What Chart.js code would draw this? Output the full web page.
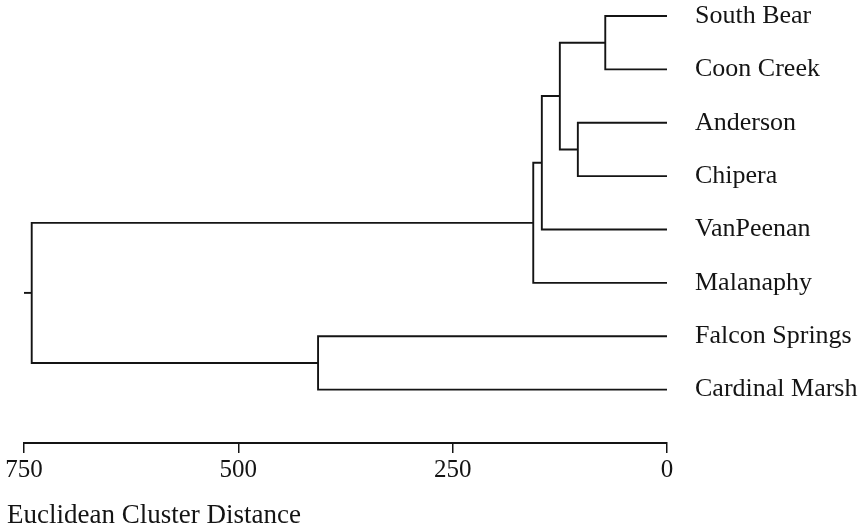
<!DOCTYPE html>
<html>
<head>
<meta charset="utf-8">
<script src="https://cdn.jsdelivr.net/npm/chart.js@4"></script>
<style>
    html, body { margin: 0; padding: 0; background: #fff; }
    canvas { display: block; }
</style>
</head>
<body>
<canvas id="chart" width="864" height="527"></canvas>
<script>
// Leaves in display order, top to bottom
const leafNames = [
    "South Bear",
    "Coon Creek",
    "Anderson",
    "Chipera",
    "VanPeenan",
    "Malanaphy",
    "Falcon Springs",
    "Cardinal Marsh",
];
// Linkage: node ids >= leafNames.length refer to earlier merges
const mergeA = [0, 2, 8, 10, 11, 6, 12];
const mergeB = [1, 3, 9, 4, 5, 7, 13];
const mergeHeight = [72, 104, 125, 146, 156, 407, 741];
const rootTail = 750;
const distanceTicks = [0, 250, 500, 750];
const axisTitle = "Euclidean Cluster Distance";

const FONT = "'Liberation Serif', 'Times New Roman', serif";
const INK = "#141414";

// position/height of every node (leaves first, then merges)
const nodeY = leafNames.map((_, i) => i);
const nodeH = leafNames.map(() => 0);
const datasets = [];
mergeHeight.forEach((h, k) => {
    const a = mergeA[k];
    const b = mergeB[k];
    datasets.push({
        data: [
            { x: nodeH[a], y: nodeY[a] },
            { x: h, y: nodeY[a] },
            { x: h, y: nodeY[b] },
            { x: nodeH[b], y: nodeY[b] },
        ],
    });
    nodeY.push((nodeY[a] + nodeY[b]) / 2);
    nodeH.push(h);
});
const root = nodeY.length - 1;
datasets.push({
    data: [
        { x: nodeH[root], y: nodeY[root] },
        { x: rootTail, y: nodeY[root] },
    ],
});
datasets.forEach((ds) => {
    Object.assign(ds, {
        showLine: true,
        borderColor: INK,
        borderWidth: 1.9,
        pointRadius: 0,
        tension: 0,
        clip: false,
    });
});

// x-axis title sits left of the plot area, so draw it by hand
const axisTitlePlugin = {
    id: "axisTitle",
    afterDraw(chart) {
        const ctx = chart.ctx;
        ctx.save();
        ctx.font = "27px " + FONT;
        ctx.fillStyle = INK;
        ctx.textAlign = "left";
        ctx.textBaseline = "alphabetic";
        ctx.fillText(axisTitle, 7, 523);
        ctx.restore();
    },
};

new Chart(document.getElementById("chart"), {
    type: "scatter",
    data: { datasets },
    plugins: [axisTitlePlugin],
    options: {
        responsive: false,
        animation: false,
        events: [],
        layout: { padding: { left: 24, top: 0, right: 0, bottom: 0 } },
        plugins: {
            legend: { display: false },
            tooltip: { enabled: false },
        },
        scales: {
            x: {
                type: "linear",
                reverse: true,
                min: 0,
                max: 750,
                afterBuildTicks: (scale) => {
                    scale.ticks = distanceTicks.map((v) => ({ value: v }));
                },
                afterFit: (scale) => {
                    scale.height = 84;
                    scale.paddingLeft = 0;
                    scale.paddingRight = 0;
                },
                grid: {
                    drawOnChartArea: false,
                    drawTicks: true,
                    tickLength: 10,
                    color: INK,
                    lineWidth: 1.5,
                },
                border: { display: true, color: INK, width: 2 },
                ticks: {
                    padding: 2,
                    color: INK,
                    font: { family: FONT, size: 25 },
                    maxRotation: 0,
                    autoSkip: false,
                },
            },
            y: {
                type: "linear",
                position: "right",
                reverse: true,
                min: -0.3,
                max: 8,
                afterBuildTicks: (scale) => {
                    scale.ticks = leafNames.map((_, i) => ({ value: i }));
                },
                afterFit: (scale) => {
                    scale.width = 197;
                    scale.paddingTop = 0;
                    scale.paddingBottom = 0;
                },
                grid: { display: false, drawTicks: false },
                border: { display: false },
                ticks: {
                    padding: 28,
                    color: INK,
                    font: { family: FONT, size: 26 },
                    callback: (v) => leafNames[v] ?? "",
                },
            },
        },
    },
});
</script>
</body>
</html>
